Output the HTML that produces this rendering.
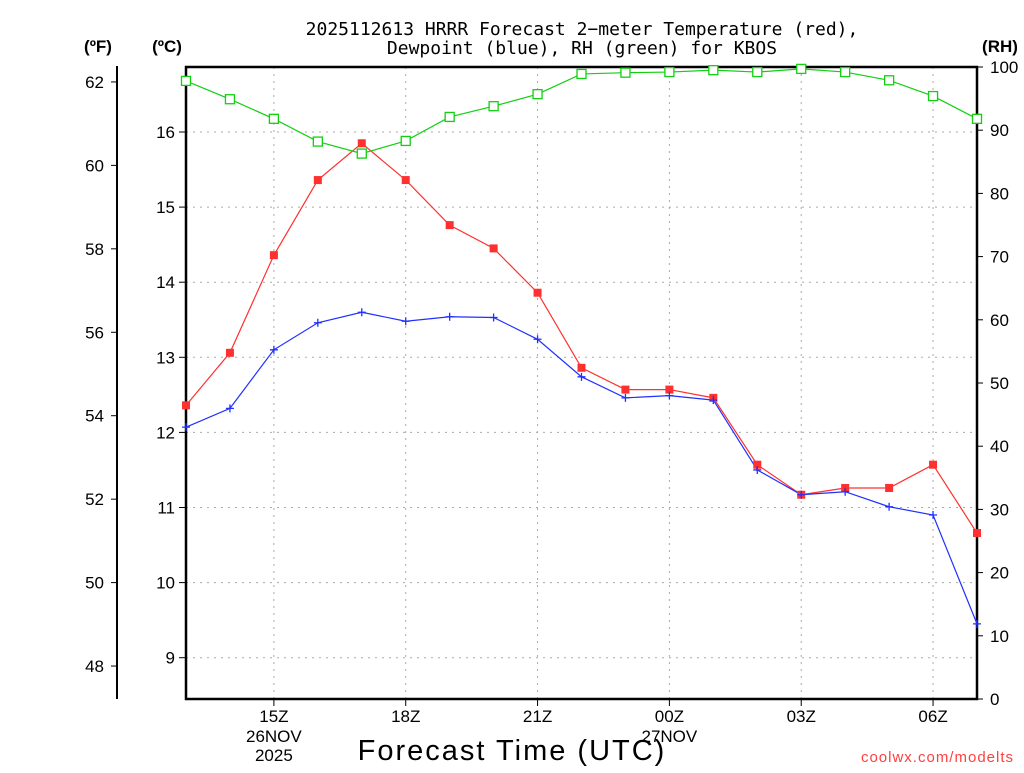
<!DOCTYPE html>
<html><head><meta charset="utf-8"><style>
body{margin:0;background:#fff;width:1024px;height:768px;overflow:hidden;font-family:"Liberation Sans",sans-serif}
</style></head><body>
<svg id="chart" width="1024" height="768" xmlns="http://www.w3.org/2000/svg" font-family="Liberation Sans, sans-serif">
<g id="grid"></g>
<g id="axes"></g>
<g id="series"></g>
<text x="582" y="35" text-anchor="middle" font-size="18" font-family="DejaVu Sans Mono, monospace">2025112613 HRRR Forecast 2−meter Temperature (red),</text>
<text x="582" y="54" text-anchor="middle" font-size="18" font-family="DejaVu Sans Mono, monospace">Dewpoint (blue), RH (green) for KBOS</text>
<text x="98" y="52" text-anchor="middle" font-size="17" font-weight="bold">(ºF)</text>
<text x="167" y="52" text-anchor="middle" font-size="17" font-weight="bold">(ºC)</text>
<text x="1000" y="52" text-anchor="middle" font-size="17" font-weight="bold">(RH)</text>
<text x="512" y="760" text-anchor="middle" font-size="29" letter-spacing="2">Forecast Time (UTC)</text>
<text x="1014" y="762" text-anchor="end" font-size="15" fill="#ff4040" letter-spacing="1">coolwx.com/modelts</text>
</svg>
<script>
const hours=["13","14","15","16","17","18","19","20","21","22","23","00","01","02","03","04","05","06","07"];
const tempC=[12.36,13.06,14.36,15.36,15.85,15.36,14.76,14.45,13.86,12.86,12.57,12.57,12.46,11.57,11.17,11.26,11.26,11.57,10.66];
const dewC=[12.07,12.32,13.10,13.46,13.60,13.48,13.54,13.53,13.24,12.74,12.46,12.49,12.43,11.50,11.17,11.21,11.01,10.90,9.45];
const rh=[97.8,94.9,91.8,88.2,86.3,88.3,92.1,93.8,95.7,98.9,99.1,99.2,99.5,99.2,99.7,99.2,97.9,95.4,91.8];
const cTicks=[9,10,11,12,13,14,15,16];
const fTicks=[48,50,52,54,56,58,60,62];
const rhTicks=[0,10,20,30,40,50,60,70,80,90,100];
const xTickIdx=[2,5,8,11,14,17];
const xTickLabels=["15Z","18Z","21Z","00Z","03Z","06Z"];
const NS="http://www.w3.org/2000/svg";
const L=186,R=977,T=67,B=699;
const xs=i=>L+i*(R-L)/(hours.length-1);
const yC=c=>132+(16-c)*75.1;
const yF=f=>yC((f-32)*5/9);
const yRH=v=>B-v*(B-T)/100;
function mk(p,tag,a){const e=document.createElementNS(NS,tag);for(const k in a)e.setAttribute(k,a[k]);p.appendChild(e);return e;}
const grid=document.getElementById('grid'),axes=document.getElementById('axes'),ser=document.getElementById('series');
cTicks.forEach(c=>{const y=yC(c);
 const g=mk(grid,'line',{x1:L,x2:R,y1:y,y2:y,stroke:'#aaa','stroke-dasharray':'2,5'});
 
 mk(axes,'line',{x1:L-7,x2:L,y1:y,y2:y,stroke:'#000'});
 const t=mk(axes,'text',{x:L-11,y:y+6,'text-anchor':'end','font-size':17});t.textContent=c;
 });
fTicks.forEach(f=>{const y=yF(f);
 mk(axes,'line',{x1:111,x2:117,y1:y,y2:y,stroke:'#000'});
 const t=mk(axes,'text',{x:104,y:y+6,'text-anchor':'end','font-size':17});t.textContent=f;
 });
rhTicks.forEach(v=>{const y=yRH(v);
 mk(axes,'line',{x1:R,x2:R+6,y1:y,y2:y,stroke:'#000'});
 const t=mk(axes,'text',{x:990,y:y+6,'font-size':17});t.textContent=v;
 });
xTickIdx.forEach((i,k)=>{const x=xs(i);
 const g=mk(grid,'line',{x1:x,x2:x,y1:T,y2:B,stroke:'#aaa','stroke-dasharray':'2,5'});
 
 mk(axes,'line',{x1:x,x2:x,y1:B,y2:B+7,stroke:'#000'});
 const t=mk(axes,'text',{x:x,y:722,'text-anchor':'middle','font-size':17});t.textContent=xTickLabels[k];
 });
[[xs(2),"26NOV",742],[xs(2),"2025",761],[xs(11),"27NOV",742]].forEach(d=>{
 const t=mk(axes,'text',{x:d[0],y:d[2],'text-anchor':'middle','font-size':17});t.textContent=d[1];
 });
mk(axes,'line',{x1:117,x2:117,y1:66,y2:699,stroke:'#000','stroke-width':2});
const fr=mk(axes,'rect',{x:L,y:T,width:R-L,height:B-T,fill:'none',stroke:'#000','stroke-width':2.5});

function line(vals,yf,col,name){
 const pl=mk(ser,'polyline',{points:vals.map((v,i)=>xs(i)+','+yf(v)).join(' '),fill:'none',stroke:col,'stroke-width':1.2});
 }
line(tempC,yC,'#ff3030','temperature');
line(dewC,yC,'#2030ff','dewpoint');
line(rh,yRH,'#10d010','rh');
tempC.forEach((v,i)=>{const m=mk(ser,'rect',{x:xs(i)-4,y:yC(v)-4,width:8,height:8,fill:'#ff3030'});
 });
dewC.forEach((v,i)=>{const x=xs(i),y=yC(v);
 const m=mk(ser,'path',{d:`M${x-4},${y}H${x+4}M${x},${y-4}V${y+4}`,stroke:'#2030ff','stroke-width':1.3});
 });
rh.forEach((v,i)=>{const m=mk(ser,'rect',{x:xs(i)-4.5,y:yRH(v)-4.5,width:9,height:9,fill:'#fff',stroke:'#10d010','stroke-width':1.3});
 });
</script>
</body></html>
